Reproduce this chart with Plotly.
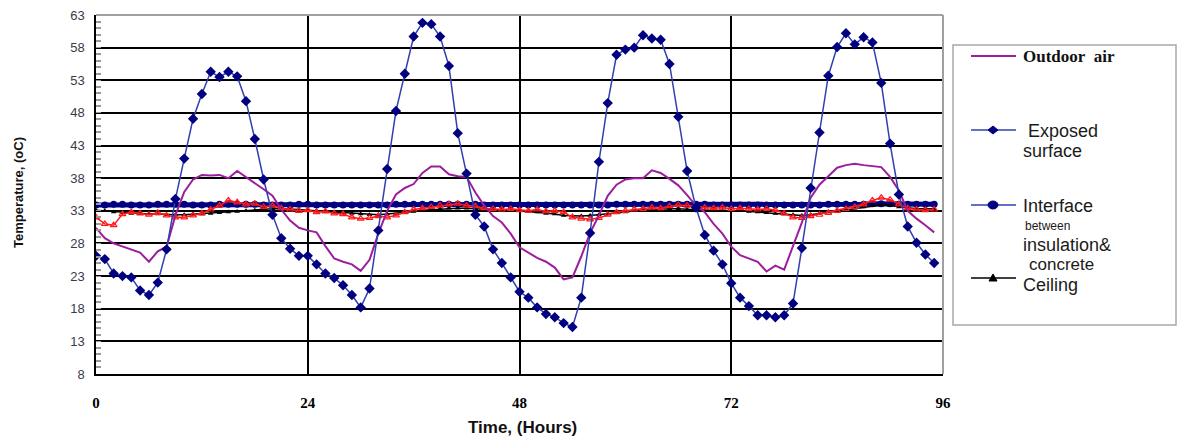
import plotly.graph_objects as go

# ---------------- data (hourly readings) ----------------
hours = list(range(96))

outdoor_air = [
    30.4, 28.8, 28.0, 27.5, 27.1, 26.6, 25.2, 26.8, 27.5, 32.3,
    35.9, 37.8, 38.5, 38.4, 38.5, 38.0, 39.1, 38.2, 37.2, 36.3,
    35.3, 33.2, 31.5, 30.4, 30.0, 29.7, 27.6, 25.7, 25.2, 24.8,
    23.8, 25.5, 29.5, 33.0, 35.5, 36.5, 37.1, 38.8, 39.8, 39.8,
    38.6, 38.3, 38.2, 35.8, 33.8, 32.2, 31.2, 29.5, 27.4, 26.6,
    25.8, 25.2, 24.3, 22.5, 22.8, 26.0, 29.6, 32.3, 35.3, 37.0,
    37.8, 38.0, 38.0, 39.2, 38.8, 37.9, 36.9, 35.4, 33.8, 32.8,
    31.0, 29.5, 27.5, 26.2, 25.7, 25.2, 23.7, 24.6, 24.0, 27.5,
    31.2, 35.0, 37.0, 38.3, 39.6, 40.0, 40.2, 40.0, 39.8, 39.7,
    38.2, 36.1, 33.0, 31.8, 30.8, 29.7,
]

exposed_surface = [
    26.1, 25.6, 23.4, 23.0, 22.8, 20.8, 20.1, 22.0, 27.1, 34.8,
    41.0, 47.1, 50.9, 54.3, 53.5, 54.3, 53.6, 49.8, 44.0, 37.8,
    32.4, 28.8, 27.2, 26.1, 26.1, 24.8, 23.4, 22.7, 21.6, 20.1,
    18.2, 21.1, 30.0, 39.4, 48.3, 54.0, 59.7, 61.8, 61.6, 59.7,
    55.2, 44.9, 38.7, 32.4, 30.6, 27.1, 25.0, 22.8, 20.6, 19.7,
    18.2, 17.2, 16.7, 15.8, 15.2, 19.7, 29.6, 40.5, 49.5, 56.9,
    57.7, 58.0, 59.9, 59.4, 59.2, 55.5, 47.4, 39.1, 33.5, 29.3,
    26.9, 24.8, 21.9, 19.7, 18.4, 17.0, 17.0, 16.7, 17.0, 18.8,
    27.3, 36.5, 45.0, 53.7, 58.1, 60.2, 58.5, 59.6, 58.8, 52.6,
    43.3, 35.5, 30.6, 28.1, 26.3, 25.0,
]

interface = [
    33.9, 33.9, 34.0, 34.0, 33.9, 33.9, 33.9, 34.0, 34.0, 34.0,
    34.0, 33.9, 33.9, 33.9, 34.0, 34.0, 34.0, 34.0, 34.0, 33.9,
    33.9, 33.9, 33.9, 34.0, 34.0, 33.9, 33.9, 33.9, 33.9, 33.9,
    33.9, 33.9, 33.9, 33.9, 34.0, 34.0, 34.0, 34.0, 34.0, 34.0,
    34.0, 34.0, 34.0, 34.0, 33.9, 33.9, 33.9, 33.9, 33.9, 33.9,
    33.9, 33.9, 33.9, 33.9, 33.9, 33.9, 33.9, 33.9, 33.9, 34.0,
    34.0, 34.0, 34.0, 34.0, 34.0, 34.0, 34.0, 34.0, 34.0, 34.0,
    33.9, 33.9, 33.9, 33.9, 33.9, 33.9, 33.9, 33.9, 33.9, 33.9,
    33.9, 33.9, 33.9, 34.0, 34.0, 34.0, 34.0, 34.0, 34.1, 34.1,
    34.1, 34.0, 34.0, 34.0, 34.0, 34.0,
]

ceiling = [
    33.1, 33.0, 32.8, 32.7, 32.6, 32.6, 32.5, 32.5, 32.4, 32.4,
    32.4, 32.5, 32.5, 32.6, 32.7, 32.8, 32.9, 33.0, 33.1, 33.2,
    33.3, 33.3, 33.3, 33.2, 33.1, 33.0, 32.9, 32.8, 32.7, 32.6,
    32.5, 32.4, 32.4, 32.5, 32.6, 32.8, 32.9, 33.1, 33.2, 33.3,
    33.4, 33.4, 33.4, 33.3, 33.3, 33.2, 33.1, 33.0, 33.0, 32.9,
    32.8, 32.6, 32.5, 32.3, 32.2, 32.2, 32.3, 32.4, 32.5, 32.7,
    32.8, 33.0, 33.1, 33.2, 33.3, 33.3, 33.3, 33.2, 33.2, 33.1,
    33.1, 33.0, 33.0, 33.0, 32.9, 32.8, 32.7, 32.6, 32.5, 32.4,
    32.3, 32.4, 32.6, 32.8, 33.0, 33.2, 33.4, 33.6, 33.8, 33.9,
    33.8, 33.6, 33.4, 33.3, 33.3, 33.3,
]

inner_surface = [
    32.0, 31.0, 30.8, 32.5, 32.8, 32.6, 32.4, 32.7, 32.3, 32.0,
    32.0, 32.3, 32.6, 33.2, 33.8, 34.6, 34.3, 34.0, 34.1, 33.6,
    33.8, 33.4, 33.2, 33.0, 33.1, 32.8, 32.9, 32.6, 32.5, 32.0,
    31.8, 31.9, 32.2, 32.0, 32.3, 32.8, 33.2, 33.4, 33.6, 33.8,
    34.0, 34.1, 33.8, 33.7, 33.4, 33.3, 33.2, 33.3, 33.1, 33.0,
    33.2, 32.9, 33.0, 32.8, 32.0, 31.8, 31.7, 31.9, 32.4, 32.8,
    33.0, 33.2, 33.3, 33.5, 33.4, 33.7, 33.9, 33.8, 33.6, 33.5,
    33.4, 33.5, 33.3, 33.4, 33.3, 33.2, 33.3, 33.1, 32.6, 32.0,
    31.9, 32.2, 32.4, 32.7, 33.0, 33.3, 33.6, 34.0, 34.6, 35.0,
    34.7, 34.0, 33.4, 33.2, 33.1, 33.2,
]

y_tick_start, y_tick_step, y_max = 8, 5, 63
x_ticks = [0, 24, 48, 72, 96]

# ---------------- layout geometry ----------------
W, H = 1179, 438
L, R, T, B = 96, 943, 15, 374


def px(xp):
    return (xp - L) / (R - L)


def py(yp):
    return (B - yp) / (B - T)


fig = go.Figure()

fig.add_trace(go.Scatter(
    x=hours, y=interface, mode="lines+markers", name="Interface",
    line=dict(color="#000080", width=5),
    marker=dict(symbol="circle", size=7, color="#000080"),
))
fig.add_trace(go.Scatter(
    x=hours, y=ceiling, mode="lines+markers", name="Ceiling",
    line=dict(color="#000000", width=1.5),
    marker=dict(symbol="triangle-up", size=5, color="#000000"),
))
fig.add_trace(go.Scatter(
    x=hours, y=inner_surface, mode="lines+markers", name="Inner",
    line=dict(color="#ff1a1a", width=1.5),
    marker=dict(symbol="triangle-up-open", size=6, color="#ff1a1a",
                line=dict(width=1.2)),
))
fig.add_trace(go.Scatter(
    x=hours, y=outdoor_air, mode="lines", name="Outdoor air",
    line=dict(color="#9c1e9c", width=2),
))
fig.add_trace(go.Scatter(
    x=hours, y=exposed_surface, mode="lines+markers", name="Exposed surface",
    line=dict(color="#3040b0", width=1.5),
    marker=dict(symbol="diamond", size=8, color="#000080"),
))

shapes = []
# gray top/right frame of plot area
shapes.append(dict(type="line", xref="paper", yref="paper", x0=0, x1=1, y0=1, y1=1,
                   line=dict(color="#a0a0a0", width=2), layer="above"))
shapes.append(dict(type="line", xref="paper", yref="paper", x0=1, x1=1, y0=0, y1=1,
                   line=dict(color="#a0a0a0", width=2), layer="above"))

# legend box
shapes.append(dict(type="rect", xref="paper", yref="paper",
                   x0=px(953), x1=px(1176), y0=py(325), y1=py(45),
                   line=dict(color="#a8a8a8", width=1.5), fillcolor="white", layer="above"))


def sample_line(yp, color, width):
    return dict(type="line", xref="paper", yref="paper",
                x0=px(971), x1=px(1016), y0=py(yp), y1=py(yp),
                line=dict(color=color, width=width), layer="above")


shapes.append(sample_line(56, "#9c1e9c", 2))
shapes.append(sample_line(130, "#3040b0", 1.5))
shapes.append(sample_line(205, "#3040b0", 1.5))
shapes.append(sample_line(278, "#000000", 1.5))

# legend symbols
cx = 993
shapes.append(dict(type="path", xref="paper", yref="paper",
                   path=f"M {px(cx-5)} {py(130)} L {px(cx)} {py(126)} L {px(cx+5)} {py(130)} L {px(cx)} {py(134)} Z",
                   fillcolor="#000080", line=dict(color="#000080", width=1), layer="above"))
shapes.append(dict(type="circle", xref="paper", yref="paper",
                   x0=px(cx-5), x1=px(cx+5), y0=py(209), y1=py(201),
                   fillcolor="#000080", line=dict(color="#000080", width=1), layer="above"))
shapes.append(dict(type="path", xref="paper", yref="paper",
                   path=f"M {px(cx-4)} {py(281)} L {px(cx)} {py(274)} L {px(cx+4)} {py(281)} Z",
                   fillcolor="#000000", line=dict(color="#000000", width=1), layer="above"))

ann = []
sans = "Liberation Sans, Arial, sans-serif"
serif = "Liberation Serif, Times New Roman, serif"


def label(text, xp, yp, size, family=sans, bold=False, color="#1a1a1a"):
    t = f"<b>{text}</b>" if bold else text
    return dict(text=t, xref="paper", yref="paper", x=px(xp), y=py(yp),
                xanchor="left", yanchor="middle", showarrow=False,
                font=dict(family=family, size=size, color=color))


ann.append(label("Outdoor&nbsp;&nbsp;air", 1021, 56, 17, serif, bold=True, color="#111111"))
ann.append(label("Exposed", 1026, 131, 18))
ann.append(label("surface", 1021, 151, 18))
ann.append(label("Interface", 1021, 206, 18))
ann.append(label("between", 1023, 226, 12))
ann.append(label("insulation&amp;", 1021, 245, 18))
ann.append(label("concrete", 1027, 264, 17))
ann.append(label("Ceiling", 1021, 285, 18))

# axis titles
ann.append(dict(text="<b>Temperature, (oC)</b>", xref="paper", yref="paper",
                x=px(19), y=py(193), textangle=-90, showarrow=False,
                xanchor="center", yanchor="middle",
                font=dict(family=sans, size=13, color="#111111")))
ann.append(dict(text="<b>Time, (Hours)</b>", xref="paper", yref="paper",
                x=px(522), y=py(427), showarrow=False,
                xanchor="center", yanchor="middle",
                font=dict(family=sans, size=17, color="#111111")))

fig.update_layout(
    width=W, height=H,
    margin=dict(l=L, r=W - R, t=T, b=H - B, autoexpand=False),
    paper_bgcolor="white", plot_bgcolor="white",
    showlegend=False,
    shapes=shapes, annotations=ann,
    xaxis=dict(
        range=[0, 96], tickvals=x_ticks, ticktext=[str(v) for v in x_ticks],
        showgrid=True, gridcolor="#000000", gridwidth=1.5,
        showline=True, linecolor="#000000", linewidth=1.5,
        zeroline=False, ticks="", ticklabelstandoff=14,
        tickfont=dict(family=serif, size=15, color="#000000", weight="bold"),
    ),
    yaxis=dict(
        range=[y_tick_start, y_max], tickmode="linear",
        tick0=y_tick_start, dtick=y_tick_step,
        showgrid=True, gridcolor="#000000", gridwidth=1.5,
        showline=True, linecolor="#000000", linewidth=1.5,
        zeroline=False, ticks="inside", ticklen=5, tickcolor="#9a9a9a",
        tickwidth=1, ticklabelstandoff=7,
        tickfont=dict(family=sans, size=13, color="#3a3a4a"),
        minor=dict(dtick=1, tick0=y_tick_start, ticks="inside", ticklen=5,
                   tickcolor="#9a9a9a", tickwidth=1.5, showgrid=False),
    ),
)

fig.write_html("out.html", config={"displayModeBar": False},
               post_script="document.body.style.margin='0';")
